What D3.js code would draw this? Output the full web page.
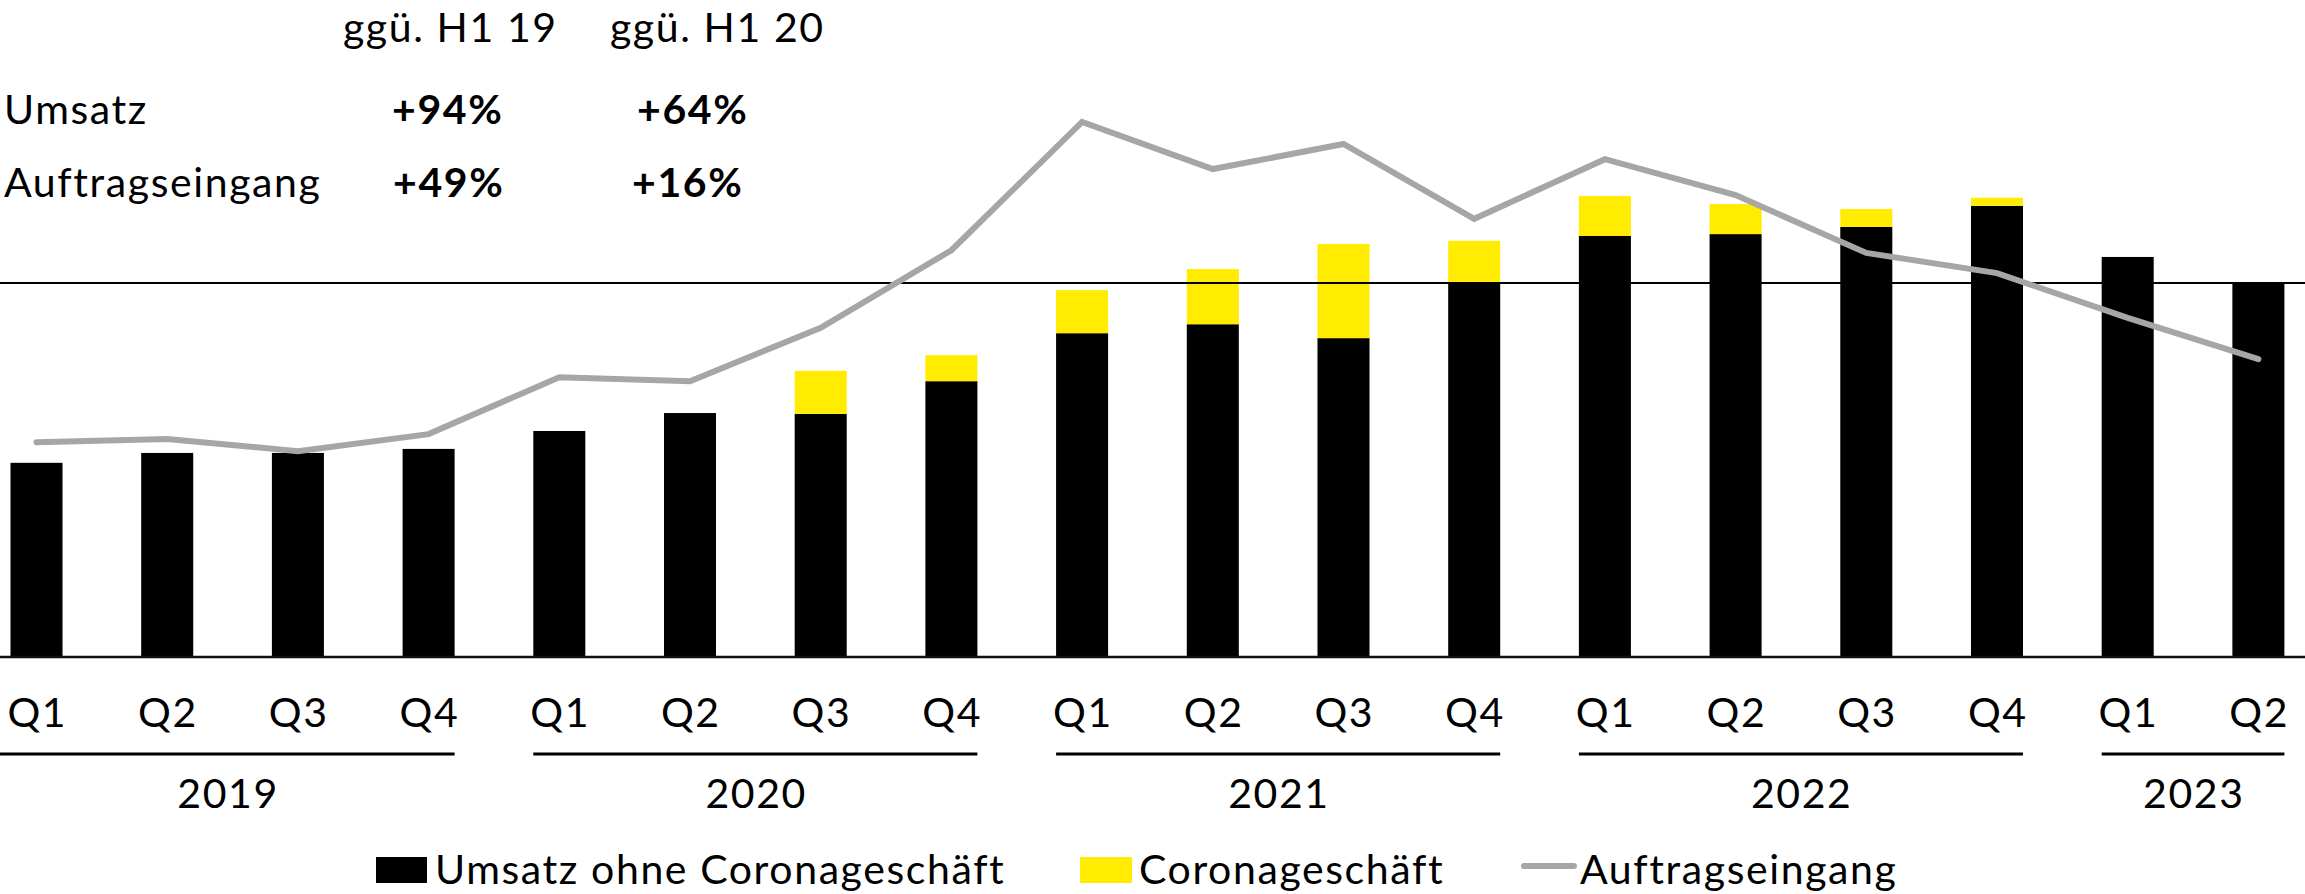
<!DOCTYPE html>
<html><head><meta charset="utf-8">
<script src="https://cdn.jsdelivr.net/npm/d3@7"></script>
<style>
html,body{margin:0;padding:0;background:#fff;}
svg{display:block;font-family:Lato,"Noto Sans",sans-serif;}
svg text{letter-spacing:1.6px;}
</style></head>
<body>
<svg id="chart" width="2305" height="894"></svg>
<script>
// ---- data (Mio €) ----
const quarters = ["Q1","Q2","Q3","Q4","Q1","Q2","Q3","Q4","Q1","Q2","Q3","Q4","Q1","Q2","Q3","Q4","Q1","Q2"];
const years    = ["2019","2019","2019","2019","2020","2020","2020","2020","2021","2021","2021","2021","2022","2022","2022","2022","2023","2023"];
const salesExCorona = [433,455,455,464, 504,544,542,615, 722,742,711,834, 939,943,959,1006, 892,832];
const coronaSales   = [0,0,0,0, 0,0,96,58, 96,123,210,94, 89,67,40,18, 0,0];
const orderIntake   = [479,486,459,497, 624,615,734,907, 1193,1088,1144,977, 1110,1030,901,856, 756,664];
const referenceLevel = 834;
const tableHeaders = ["ggü. H1 19","ggü. H1 20"];
const tableRowLabels = ["Umsatz","Auftragseingang"];
const tableValues = [["+94%","+64%"],["+49%","+16%"]];
const legendLabels = ["Umsatz ohne Coronageschäft","Coronageschäft","Auftragseingang"];

const W = 2305, H = 894;
const baseY = 657;
const FS = 41;
const svg = d3.select("#chart");
const ids = quarters.map((q,i)=>years[i]+"-"+q);

const x = d3.scaleBand().domain(ids).range([10.5, 2284.4]).paddingInner(0.602).paddingOuter(0);
const y = d3.scaleLinear().domain([0,1465]).range([baseY,0]);

const BLACK="#000", YELLOW="#FFEC00", GRAY="#A6A6A6";

// bars
const rows = ids.map((id,i)=>({id, a:salesExCorona[i], b:coronaSales[i], l:orderIntake[i]}));
const g = svg.append("g");
g.selectAll("rect.ex").data(rows).join("rect").attr("class","ex")
  .attr("x",d=>x(d.id)).attr("width",x.bandwidth())
  .attr("y",d=>y(d.a)).attr("height",d=>y(0)-y(d.a)).attr("fill",BLACK);
g.selectAll("rect.co").data(rows.filter(d=>d.b>0)).join("rect").attr("class","co")
  .attr("x",d=>x(d.id)).attr("width",x.bandwidth())
  .attr("y",d=>y(d.a+d.b)).attr("height",d=>y(d.a)-y(d.a+d.b)).attr("fill",YELLOW);

// reference line and baseline
svg.append("line").attr("x1",0).attr("x2",W).attr("y1",y(referenceLevel)).attr("y2",y(referenceLevel))
  .attr("stroke","#000").attr("stroke-width",2);
svg.append("line").attr("x1",0).attr("x2",W).attr("y1",y(0)).attr("y2",y(0))
  .attr("stroke","#111").attr("stroke-width",2.5);

// order intake line
const line = d3.line().x(d=>x(d.id)+x.bandwidth()/2).y(d=>y(d.l));
svg.append("path").datum(rows).attr("d",line).attr("fill","none")
  .attr("stroke",GRAY).attr("stroke-width",6).attr("stroke-linecap","round").attr("stroke-linejoin","miter");

// x axis labels (quarters)
const axis = d3.axisBottom(x).tickSize(0).tickFormat((d,i)=>quarters[i]);
const ax = svg.append("g").attr("transform",`translate(0,${baseY})`).call(axis);
ax.select(".domain").remove();
ax.selectAll("text").attr("font-size",FS).attr("fill","#000").attr("dy",0).attr("y",70)
  .attr("dx",0.8).style("font-family","Lato");

// year groups
const yearList = Array.from(new Set(years));
yearList.forEach((yr,k)=>{
  const its = ids.filter((id,i)=>years[i]===yr);
  let x0 = x(its[0]); const x1 = x(its[its.length-1])+x.bandwidth();
  if(k===0) x0 = 0;
  svg.append("line").attr("x1",x0).attr("x2",x1).attr("y1",754).attr("y2",754)
    .attr("stroke","#000").attr("stroke-width",3);
  svg.append("text").attr("x",(x0+x1)/2+0.8).attr("y",808).attr("text-anchor","middle")
    .attr("font-size",FS).text(yr);
});

// top table
const colX = [343,610];
const valX = [[392,637],[393,632]];
const rowY = [124,197];
tableHeaders.forEach((t,j)=>svg.append("text").attr("x",colX[j]).attr("y",42).attr("font-size",FS).text(t));
tableRowLabels.forEach((t,r)=>{
  svg.append("text").attr("x",4).attr("y",rowY[r]).attr("font-size",FS).text(t);
  tableValues[r].forEach((v,j)=>svg.append("text").attr("x",valX[r][j]).attr("y",rowY[r])
    .attr("font-size",FS).attr("font-weight",700).text(v));
});

// legend
const lg = svg.append("g");
lg.append("rect").attr("x",376).attr("y",857).attr("width",51).attr("height",26).attr("fill",BLACK);
lg.append("text").attr("x",435).attr("y",884).attr("font-size",FS).text(legendLabels[0]);
lg.append("rect").attr("x",1080).attr("y",857).attr("width",52).attr("height",26).attr("fill",YELLOW);
lg.append("text").attr("x",1139).attr("y",884).attr("font-size",FS).text(legendLabels[1]);
lg.append("line").attr("x1",1524).attr("x2",1574).attr("y1",866).attr("y2",866)
  .attr("stroke",GRAY).attr("stroke-width",6).attr("stroke-linecap","round");
lg.append("text").attr("x",1580).attr("y",884).attr("font-size",FS).text(legendLabels[2]);
</script>
</body></html>
